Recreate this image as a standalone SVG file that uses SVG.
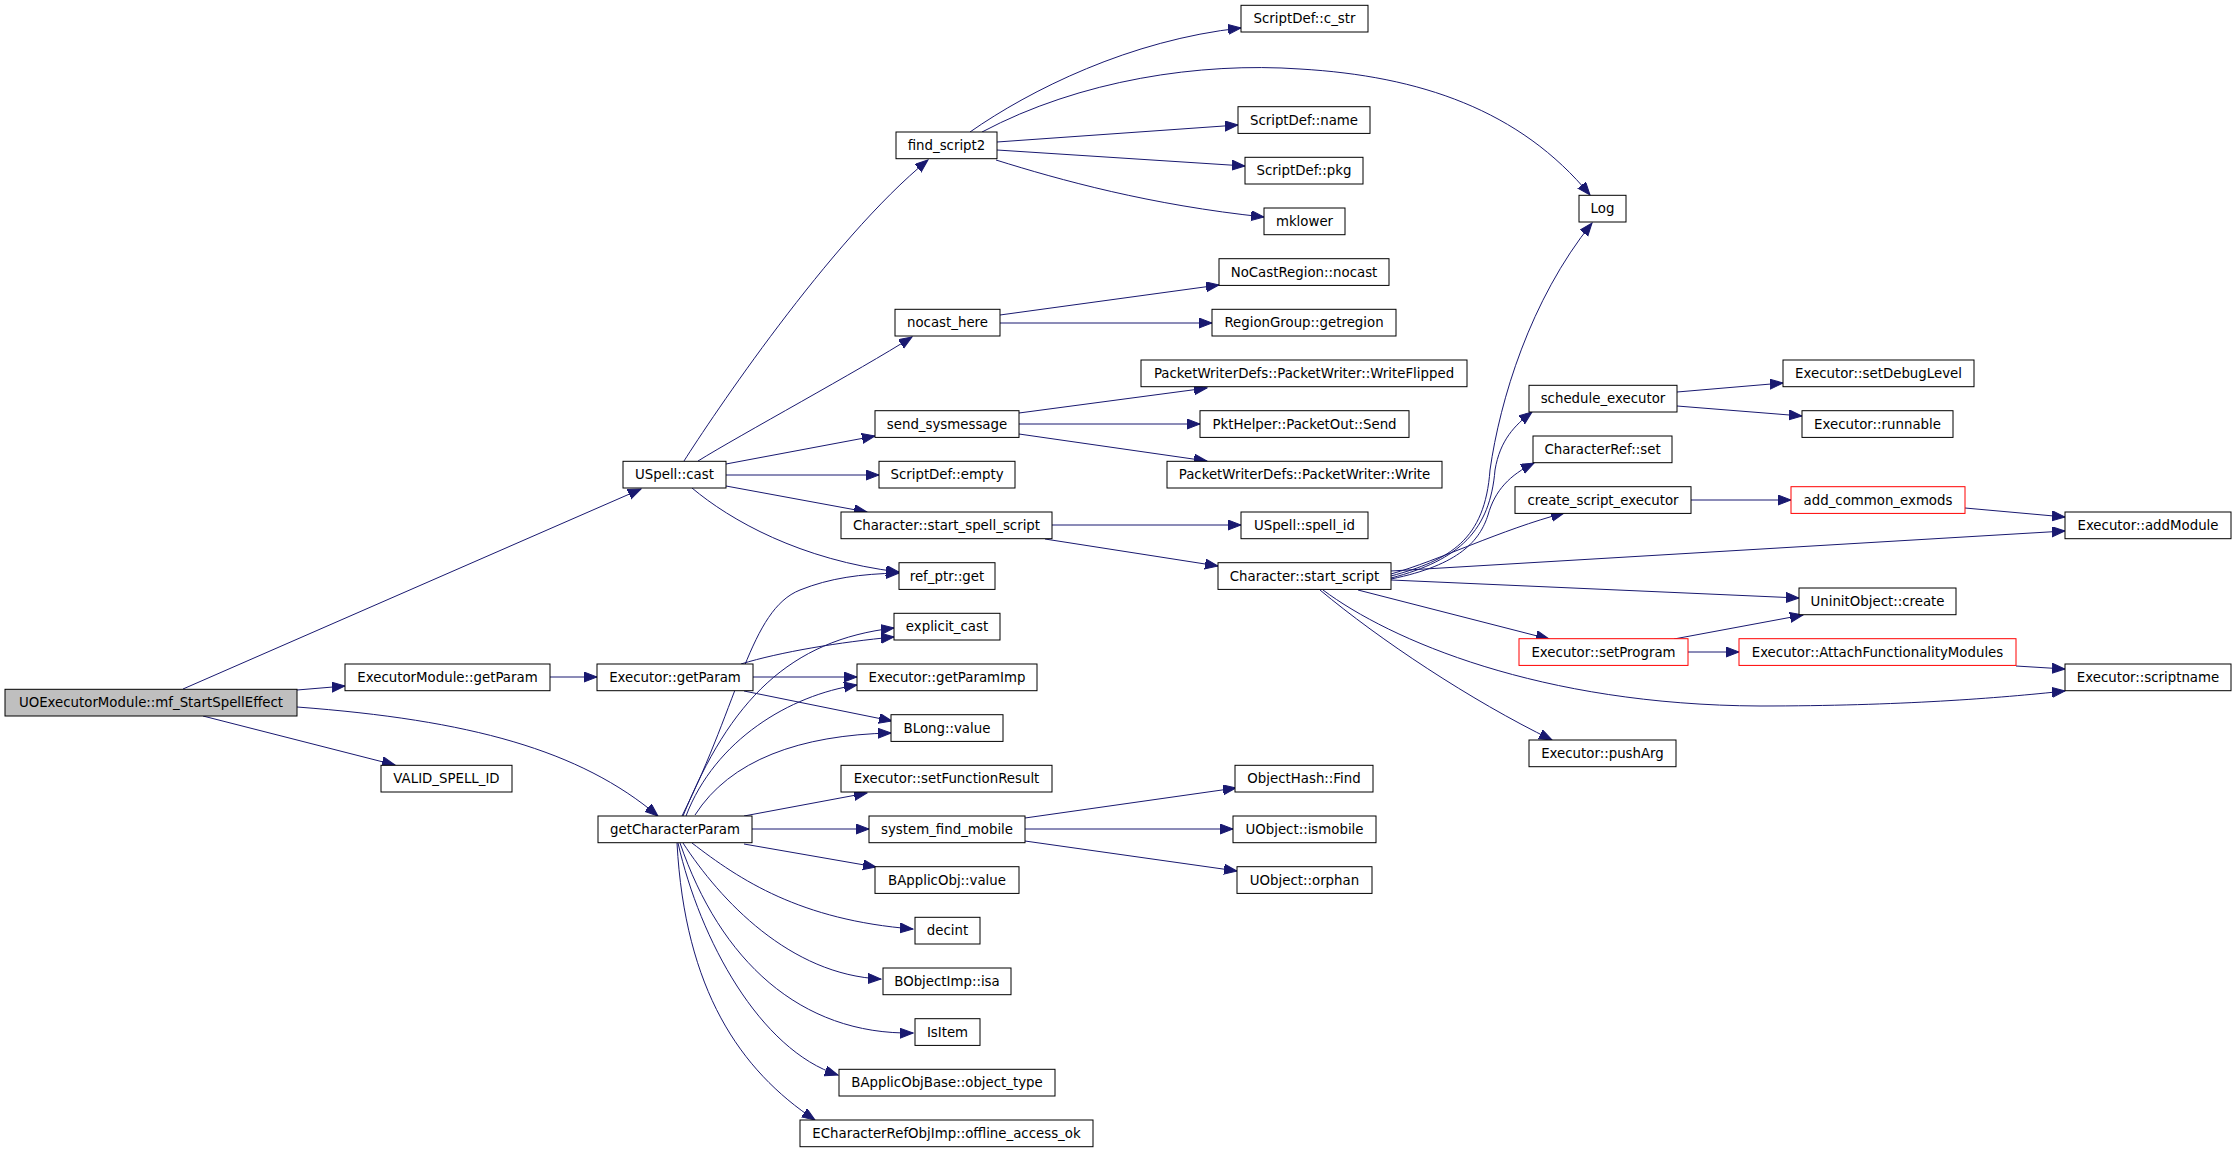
<svg xmlns="http://www.w3.org/2000/svg" width="2237" height="1152" viewBox="0 0 2237 1152">
<style>
.n rect{fill:#fff;stroke:#000;stroke-width:1}
.n.red rect{stroke:#f00}
.n.root rect{fill:#bfbfbf}
.n text{font-family:"DejaVu Sans","Liberation Sans",sans-serif;font-size:13.33px;text-anchor:middle;fill:#000}
#edges path{fill:none;stroke:#191970;stroke-width:1;marker-end:url(#arr)}
</style>
<defs>
<marker id="arr" markerUnits="userSpaceOnUse" markerWidth="14" markerHeight="11" refX="13" refY="5" orient="auto">
<path d="M0,0 L13,5 L0,10 z" fill="#191970" stroke="#191970" stroke-width="1"/>
</marker>
</defs>
<rect width="2237" height="1152" fill="#fff"/>
<g id="edges">
<path d="M183,689 L641,489"/>
<path d="M297,690 L345,686"/>
<path d="M203,716 L395,765"/>
<path d="M297,707 C470,720 580,750 658,816"/>
<path d="M550,677 L597,677"/>
<path d="M684,461 C710,420 830,240 928,160"/>
<path d="M698,461 C740,435 860,370 912,337"/>
<path d="M726,464 L875,436"/>
<path d="M726,475 L879,475"/>
<path d="M726,486 L867,512"/>
<path d="M692,488 C730,520 800,560 899,572"/>
<path d="M970,132 C1030,90 1130,40 1241,28"/>
<path d="M982,132 C1080,80 1200,62 1300,69 C1420,76 1520,110 1590,195"/>
<path d="M997,142 L1238,125"/>
<path d="M997,150 L1245,166"/>
<path d="M996,160 C1060,180 1150,205 1264,217"/>
<path d="M1000,315 L1219,285"/>
<path d="M1000,323 L1212,323"/>
<path d="M1019,413 L1207,388"/>
<path d="M1019,424 L1200,424"/>
<path d="M1019,434 L1207,461"/>
<path d="M1052,525 L1241,525"/>
<path d="M1045,539 L1218,566"/>
<path d="M741,664 C780,652 840,642 894,637"/>
<path d="M753,677 L857,677"/>
<path d="M744,691 L892,721"/>
<path d="M682,816 C740,700 750,610 800,590 C830,578 860,574 899,573"/>
<path d="M683,816 C730,700 790,640 894,628"/>
<path d="M686,816 C715,740 790,695 857,685"/>
<path d="M695,815 C730,760 800,735 891,733"/>
<path d="M744,816 L867,793"/>
<path d="M752,829 L869,829"/>
<path d="M744,844 L876,867"/>
<path d="M692,843 C740,880 800,920 913,929"/>
<path d="M683,843 C720,900 790,975 881,979"/>
<path d="M680,843 C720,960 800,1035 913,1033"/>
<path d="M678,843 C700,940 760,1050 838,1075"/>
<path d="M677,843 C685,990 740,1070 815,1120"/>
<path d="M1391,576 C1450,560 1485,540 1490,470 C1500,400 1530,300 1592,223"/>
<path d="M1391,578 C1460,560 1490,530 1495,470 C1500,440 1515,425 1532,412"/>
<path d="M1391,579 C1460,565 1480,540 1488,515 C1495,490 1510,475 1534,463"/>
<path d="M1391,574 C1440,560 1500,530 1564,513"/>
<path d="M1391,571 L2065,531"/>
<path d="M1391,580 L1799,598"/>
<path d="M1358,590 L1549,639"/>
<path d="M1323,590 C1390,640 1540,705 1760,706 C1900,706 2000,698 2065,691"/>
<path d="M1320,590 C1380,640 1470,700 1552,740"/>
<path d="M1677,392 L1783,383"/>
<path d="M1677,406 L1802,416"/>
<path d="M1691,500 L1791,500"/>
<path d="M1965,508 L2065,517"/>
<path d="M1674,639 L1803,615"/>
<path d="M1688,652 L1739,652"/>
<path d="M2016,666 L2065,669"/>
<path d="M1025,818 L1236,788"/>
<path d="M1025,829 L1233,829"/>
<path d="M1025,841 L1237,871"/>
</g>
<g id="n1" class="n root"><rect x="5" y="689.3" width="292" height="26.7"/><text x="151" y="707.3">UOExecutorModule::mf_StartSpellEffect</text></g>
<g id="n2" class="n"><rect x="623" y="461.3" width="103" height="26.7"/><text x="674.5" y="479.3">USpell::cast</text></g>
<g id="n3" class="n"><rect x="345" y="664" width="205" height="26.7"/><text x="447.5" y="682">ExecutorModule::getParam</text></g>
<g id="n4" class="n"><rect x="381" y="765.3" width="131" height="26.7"/><text x="446.5" y="783.3">VALID_SPELL_ID</text></g>
<g id="n5" class="n"><rect x="598" y="816" width="154" height="26.7"/><text x="675" y="834">getCharacterParam</text></g>
<g id="n6" class="n"><rect x="597" y="664" width="156" height="26.7"/><text x="675" y="682">Executor::getParam</text></g>
<g id="n7" class="n"><rect x="896" y="132" width="101" height="26.7"/><text x="946.5" y="150">find_script2</text></g>
<g id="n8" class="n"><rect x="895" y="309.3" width="105" height="26.7"/><text x="947.5" y="327.3">nocast_here</text></g>
<g id="n9" class="n"><rect x="875" y="410.7" width="144" height="26.7"/><text x="947" y="428.7">send_sysmessage</text></g>
<g id="n10" class="n"><rect x="879" y="461.3" width="136" height="26.7"/><text x="947" y="479.3">ScriptDef::empty</text></g>
<g id="n11" class="n"><rect x="841" y="512" width="211" height="26.7"/><text x="946.5" y="530">Character::start_spell_script</text></g>
<g id="n12" class="n"><rect x="899" y="562.7" width="96" height="26.7"/><text x="947" y="580.7">ref_ptr::get</text></g>
<g id="n13" class="n"><rect x="894" y="613.3" width="106" height="26.7"/><text x="947" y="631.3">explicit_cast</text></g>
<g id="n14" class="n"><rect x="857" y="664" width="180" height="26.7"/><text x="947" y="682">Executor::getParamImp</text></g>
<g id="n15" class="n"><rect x="891" y="714.7" width="112" height="26.7"/><text x="947" y="732.7">BLong::value</text></g>
<g id="n16" class="n"><rect x="841" y="765.3" width="211" height="26.7"/><text x="946.5" y="783.3">Executor::setFunctionResult</text></g>
<g id="n17" class="n"><rect x="869" y="816" width="156" height="26.7"/><text x="947" y="834">system_find_mobile</text></g>
<g id="n18" class="n"><rect x="875" y="866.7" width="144" height="26.7"/><text x="947" y="884.7">BApplicObj::value</text></g>
<g id="n19" class="n"><rect x="915" y="917.3" width="65" height="26.7"/><text x="947.5" y="935.3">decint</text></g>
<g id="n20" class="n"><rect x="883" y="968" width="128" height="26.7"/><text x="947" y="986">BObjectImp::isa</text></g>
<g id="n21" class="n"><rect x="915" y="1018.7" width="65" height="26.7"/><text x="947.5" y="1036.7">IsItem</text></g>
<g id="n22" class="n"><rect x="839" y="1069.3" width="216" height="26.7"/><text x="947" y="1087.3">BApplicObjBase::object_type</text></g>
<g id="n23" class="n"><rect x="800" y="1120" width="293" height="26.7"/><text x="946.5" y="1138">ECharacterRefObjImp::offline_access_ok</text></g>
<g id="n24" class="n"><rect x="1241" y="5.3" width="127" height="26.7"/><text x="1304.5" y="23.3">ScriptDef::c_str</text></g>
<g id="n25" class="n"><rect x="1238" y="106.7" width="132" height="26.7"/><text x="1304" y="124.7">ScriptDef::name</text></g>
<g id="n26" class="n"><rect x="1245" y="157.3" width="118" height="26.7"/><text x="1304" y="175.3">ScriptDef::pkg</text></g>
<g id="n27" class="n"><rect x="1264" y="208" width="81" height="26.7"/><text x="1304.5" y="226">mklower</text></g>
<g id="n28" class="n"><rect x="1219" y="258.7" width="170" height="26.7"/><text x="1304" y="276.7">NoCastRegion::nocast</text></g>
<g id="n29" class="n"><rect x="1212" y="309.3" width="184" height="26.7"/><text x="1304" y="327.3">RegionGroup::getregion</text></g>
<g id="n30" class="n"><rect x="1141" y="360" width="326" height="26.7"/><text x="1304" y="378">PacketWriterDefs::PacketWriter::WriteFlipped</text></g>
<g id="n31" class="n"><rect x="1200" y="410.7" width="209" height="26.7"/><text x="1304.5" y="428.7">PktHelper::PacketOut::Send</text></g>
<g id="n32" class="n"><rect x="1167" y="461.3" width="275" height="26.7"/><text x="1304.5" y="479.3">PacketWriterDefs::PacketWriter::Write</text></g>
<g id="n33" class="n"><rect x="1241" y="512" width="127" height="26.7"/><text x="1304.5" y="530">USpell::spell_id</text></g>
<g id="n34" class="n"><rect x="1218" y="562.7" width="173" height="26.7"/><text x="1304.5" y="580.7">Character::start_script</text></g>
<g id="n35" class="n"><rect x="1235" y="765.3" width="138" height="26.7"/><text x="1304" y="783.3">ObjectHash::Find</text></g>
<g id="n36" class="n"><rect x="1233" y="816" width="143" height="26.7"/><text x="1304.5" y="834">UObject::ismobile</text></g>
<g id="n37" class="n"><rect x="1237" y="866.7" width="135" height="26.7"/><text x="1304.5" y="884.7">UObject::orphan</text></g>
<g id="n38" class="n"><rect x="1579" y="195.3" width="47" height="26.7"/><text x="1602.5" y="213.3">Log</text></g>
<g id="n39" class="n"><rect x="1529" y="385.3" width="148" height="26.7"/><text x="1603" y="403.3">schedule_executor</text></g>
<g id="n40" class="n"><rect x="1533" y="436" width="139" height="26.7"/><text x="1602.5" y="454">CharacterRef::set</text></g>
<g id="n41" class="n"><rect x="1515" y="486.7" width="176" height="26.7"/><text x="1603" y="504.7">create_script_executor</text></g>
<g id="n42" class="n red"><rect x="1519" y="638.7" width="169" height="26.7"/><text x="1603.5" y="656.7">Executor::setProgram</text></g>
<g id="n43" class="n"><rect x="1529" y="740" width="147" height="26.7"/><text x="1602.5" y="758">Executor::pushArg</text></g>
<g id="n44" class="n"><rect x="1783" y="360" width="191" height="26.7"/><text x="1878.5" y="378">Executor::setDebugLevel</text></g>
<g id="n45" class="n"><rect x="1802" y="410.7" width="151" height="26.7"/><text x="1877.5" y="428.7">Executor::runnable</text></g>
<g id="n46" class="n red"><rect x="1791" y="486.7" width="174" height="26.7"/><text x="1878" y="504.7">add_common_exmods</text></g>
<g id="n47" class="n"><rect x="1799" y="588" width="157" height="26.7"/><text x="1877.5" y="606">UninitObject::create</text></g>
<g id="n48" class="n red"><rect x="1739" y="638.7" width="277" height="26.7"/><text x="1877.5" y="656.7">Executor::AttachFunctionalityModules</text></g>
<g id="n49" class="n"><rect x="2065" y="512" width="166" height="26.7"/><text x="2148" y="530">Executor::addModule</text></g>
<g id="n50" class="n"><rect x="2065" y="664" width="166" height="26.7"/><text x="2148" y="682">Executor::scriptname</text></g>
</svg>
